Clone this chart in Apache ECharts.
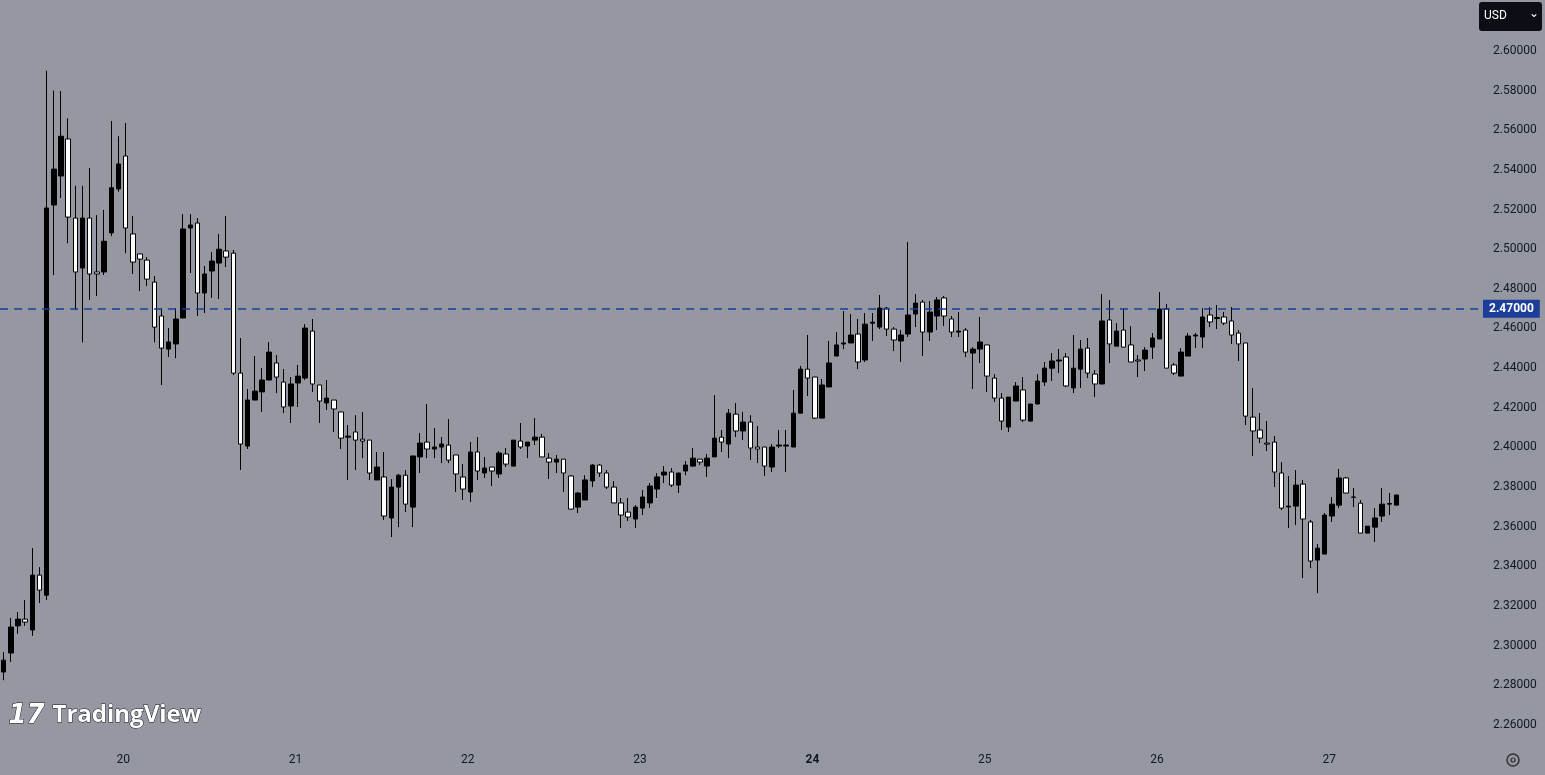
<!DOCTYPE html>
<html><head><meta charset="utf-8">
<script src="https://cdn.jsdelivr.net/npm/echarts@6/dist/echarts.min.js"></script>
<style>html,body{margin:0;padding:0;background:#9598a1;}#c{width:1545px;height:775px;}</style>
</head><body><div id="c"></div>
<script>
const openV=[2.2867,2.2963,2.310,2.3134,2.3079,2.3356,2.3255,2.5223,2.5369,2.5556,2.5157,2.4905,2.5157,2.4885,2.4885,2.5082,2.5304,2.547,2.5077,2.4976,2.4945,2.4834,2.4663,2.4496,2.4522,2.4653,2.5107,2.5132,2.4779,2.489,2.493,2.4991,2.498,2.4375,2.4007,2.4239,2.428,2.434,2.4426,2.433,2.4209,2.4325,2.435,2.4587,2.4315,2.4224,2.4239,2.4179,2.4052,2.4078,2.4042,2.4037,2.3836,2.3851,2.3644,2.380,2.386,2.3699,2.3952,2.4027,2.3992,2.4002,2.4012,2.3962,2.3851,2.3775,2.3977,2.3871,2.3901,2.3866,2.3967,2.3906,2.4032,2.4007,2.4037,2.4052,2.3946,2.3926,2.3941,2.3856,2.3699,2.3735,2.3831,2.3911,2.3871,2.380,2.372,2.3674,2.3639,2.3694,2.372,2.379,2.3861,2.3876,2.381,2.3881,2.3906,2.3941,2.3906,2.3952,2.4052,2.4017,2.4168,2.4083,2.4128,2.4002,2.4002,2.3901,2.4007,2.4007,2.4002,2.4173,2.4395,2.4355,2.4148,2.4305,2.4461,2.4522,2.4527,2.4572,2.4441,2.4627,2.4607,2.4703,2.4597,2.4537,2.4572,2.4673,2.4733,2.4582,2.4663,2.4754,2.4648,2.4582,2.4592,2.4476,2.4496,2.4517,2.435,2.4249,2.4103,2.4234,2.429,2.4133,2.4219,2.433,2.44,2.4436,2.4456,2.43,2.4395,2.4501,2.437,2.432,2.4643,2.4511,2.4592,2.4517,2.4441,2.4446,2.4506,2.4547,2.4698,2.4416,2.436,2.4461,2.4562,2.4557,2.4668,2.4650,2.4658,2.4638,2.4577,2.4527,2.4153,2.4088,2.4022,2.4027,2.3871,2.3700,2.3704,2.3815,2.3624,2.3432,2.3462,2.3654,2.3709,2.3846,2.3750,2.3719,2.3568,2.3598,2.3654,2.3714,2.3709];
const closeV=[2.2927,2.3094,2.3134,2.3119,2.3356,2.328,2.5208,2.5404,2.557,2.5162,2.4885,2.5157,2.4875,2.4875,2.504,2.531,2.543,2.5107,2.4935,2.495,2.4849,2.4607,2.4501,2.4532,2.4648,2.5102,2.5122,2.4779,2.4875,2.494,2.500,2.496,2.4375,2.4017,2.4239,2.4284,2.434,2.4481,2.4355,2.4204,2.432,2.436,2.4602,2.432,2.4234,2.4249,2.4194,2.4047,2.4057,2.4037,2.4032,2.3871,2.3901,2.3654,2.3800,2.386,2.3714,2.3957,2.4022,2.3992,2.4002,2.4017,2.3936,2.3866,2.379,2.3977,2.3881,2.3896,2.3881,2.3972,2.3916,2.4037,2.4002,2.4027,2.4052,2.3952,2.3926,2.3941,2.3871,2.3689,2.377,2.3836,2.3911,2.3871,2.380,2.372,2.3659,2.3649,2.3699,2.3750,2.3805,2.3851,2.3876,2.381,2.3871,2.3911,2.3946,2.3926,2.3946,2.4047,2.4027,2.4173,2.4083,2.4128,2.3997,2.3992,2.3906,2.4002,2.4012,2.4012,2.4173,2.4395,2.435,2.4148,2.4315,2.4426,2.4517,2.4527,2.4567,2.4431,2.4622,2.4632,2.4703,2.4597,2.4542,2.4567,2.4668,2.4728,2.4582,2.4683,2.4744,2.4663,2.4582,2.4587,2.4481,2.4496,2.4532,2.436,2.4249,2.4133,2.4254,2.431,2.4138,2.4219,2.4335,2.44,2.4436,2.4441,2.431,2.44,2.4496,2.4375,2.432,2.4638,2.4522,2.4587,2.4506,2.4431,2.4436,2.4491,2.4552,2.4698,2.44,2.4375,2.4481,2.4562,2.4567,2.4658,2.4633,2.4655,2.4627,2.4567,2.4522,2.4158,2.4083,2.4047,2.4017,2.3876,2.3694,2.3704,2.3810,2.3639,2.3427,2.3492,2.3659,2.3714,2.3846,2.377,2.3748,2.3568,2.3603,2.3644,2.3714,2.3717,2.376];
const lowV=[2.2826,2.2918,2.306,2.310,2.305,2.3215,2.323,2.487,2.5258,2.503,2.4693,2.453,2.4744,2.4764,2.487,2.5066,2.529,2.498,2.4875,2.4789,2.4814,2.453,2.4315,2.4456,2.445,2.4653,2.488,2.4663,2.4678,2.4754,2.4749,2.491,2.4365,2.3886,2.3992,2.4239,2.4179,2.434,2.4274,2.4173,2.4123,2.4204,2.434,2.428,2.4123,2.4189,2.4078,2.3992,2.3836,2.3886,2.3946,2.3836,2.3836,2.3634,2.3548,2.3598,2.3674,2.3598,2.3871,2.3946,2.3946,2.3921,2.3921,2.3775,2.3735,2.3725,2.3836,2.3846,2.3805,2.3846,2.3901,2.3906,2.3992,2.3946,2.4012,2.3952,2.3841,2.3871,2.3775,2.3689,2.3669,2.3735,2.380,2.3851,2.379,2.372,2.3593,2.3629,2.3593,2.3659,2.3694,2.3745,2.382,2.380,2.377,2.386,2.3901,2.3911,2.3851,2.3952,2.3977,2.3946,2.4052,2.4037,2.3936,2.3921,2.3856,2.3876,2.3997,2.3876,2.4002,2.4173,2.4259,2.4143,2.4148,2.4305,2.4461,2.4496,2.4527,2.4395,2.4431,2.4537,2.4597,2.4562,2.4486,2.4431,2.4557,2.4607,2.4461,2.4537,2.4592,2.4612,2.4557,2.4557,2.4456,2.4295,2.4426,2.428,2.4229,2.4088,2.4078,2.4234,2.4128,2.4133,2.4219,2.431,2.4335,2.4375,2.4305,2.4274,2.43,2.435,2.4254,2.432,2.4426,2.4511,2.4506,2.4431,2.4355,2.4385,2.4446,2.4547,2.44,2.4365,2.436,2.4461,2.4501,2.4501,2.4607,2.4597,2.4617,2.4522,2.4436,2.4113,2.3957,2.4022,2.3982,2.380,2.3684,2.3593,2.3608,2.3341,2.3391,2.3265,2.3462,2.3624,2.3694,2.377,2.3699,2.3568,2.3568,2.3523,2.3624,2.3659,2.3709];
const highV=[2.2968,2.314,2.317,2.323,2.3492,2.3396,2.590,2.580,2.5798,2.566,2.532,2.532,2.541,2.5172,2.5198,2.5647,2.557,2.5637,2.5167,2.4976,2.496,2.4865,2.4703,2.4602,2.4703,2.5177,2.5177,2.5157,2.4915,2.4986,2.5077,2.5167,2.4996,2.4552,2.4295,2.4461,2.440,2.4532,2.4466,2.4395,2.4355,2.4416,2.4622,2.4648,2.4315,2.434,2.4239,2.418,2.4113,2.4163,2.4179,2.4037,2.3977,2.3977,2.384,2.3866,2.3886,2.3957,2.4073,2.4219,2.4098,2.4052,2.4143,2.3962,2.3916,2.4027,2.4052,2.3952,2.3901,2.3982,2.3997,2.4037,2.4123,2.4027,2.4148,2.4068,2.3972,2.3962,2.3941,2.386,2.3775,2.386,2.3916,2.3916,2.3886,2.383,2.3745,2.3745,2.3709,2.3785,2.382,2.3871,2.3906,2.3896,2.3871,2.3931,2.3997,2.3941,2.3967,2.4264,2.4088,2.4194,2.4224,2.4179,2.4163,2.4108,2.4002,2.4017,2.4088,2.4088,2.4290,2.4411,2.4567,2.4355,2.4345,2.4537,2.4582,2.4688,2.4673,2.4648,2.4678,2.4678,2.4769,2.4708,2.4607,2.4592,2.5036,2.4774,2.4744,2.4738,2.4759,2.4764,2.4663,2.4683,2.4602,2.4506,2.4658,2.4517,2.437,2.4274,2.4254,2.433,2.4355,2.4219,2.437,2.4431,2.4476,2.4496,2.4476,2.4567,2.4542,2.4552,2.439,2.4774,2.4744,2.4627,2.4698,2.4612,2.4466,2.4506,2.4577,2.4784,2.4723,2.4426,2.4501,2.4577,2.4577,2.4703,2.4708,2.4718,2.4683,2.4708,2.4592,2.4527,2.43,2.4173,2.4133,2.4058,2.3926,2.3856,2.3886,2.3836,2.3634,2.3513,2.3669,2.3750,2.3891,2.3851,2.3795,2.3735,2.3603,2.3694,2.3795,2.377,2.376];
const dayLabels=['20','21','22','23','24','25','26','27'];
const yTicks=[2.26,2.28,2.30,2.32,2.34,2.36,2.38,2.40,2.42,2.44,2.46,2.48,2.50,2.52,2.54,2.56,2.58,2.60];
const refLevel=2.47;

const firstDayIdx=17, totalSlots=206;
const cats=[];const dayAt={};
for(let i=0;i<totalSlots;i++){cats.push('h'+i);const d=i-firstDayIdx;if(d>=0&&d%24===0&&dayLabels[d/24]!==undefined)dayAt[i]=dayLabels[d/24];}
const kdata=openV.map((o,i)=>[o,closeV[i],lowV[i],highV[i]]);

const chart=echarts.init(document.getElementById('c'));
chart.setOption({
  backgroundColor:'#9598a1',animation:false,
  grid:{left:-2,right:66,top:0,bottom:30},
  xAxis:{type:'category',data:cats,boundaryGap:true,
    axisLine:{show:false},axisTick:{show:false},splitLine:{show:false},
    axisLabel:{interval:(i)=>dayAt[i]!==undefined,formatter:(v,i)=>{const t=dayAt[i];if(t===undefined)return '';return t==='24'?'{b|24}':t;},
      color:'#131722',fontSize:12,fontFamily:'Roboto, sans-serif',margin:9,padding:[0,5,0,0],rich:{b:{fontWeight:'bold',fontSize:12,color:'#131722'}}}},
  yAxis:{type:'value',position:'right',min:2.2499,max:2.6257,scale:true,
    axisLine:{show:false},axisTick:{show:false},splitLine:{show:false},
    axisLabel:{customValues:yTicks,formatter:v=>v.toFixed(5),color:'#131722',fontSize:12,fontFamily:'Roboto, sans-serif',margin:14,padding:[4,0,0,0]}},
  series:[{type:'candlestick',data:kdata,barWidth:5,
    itemStyle:{color:'#000000',color0:'#ffffff',borderColor:'#000000',borderColor0:'#000000',borderWidth:1},
    markLine:{symbol:'none',silent:true,data:[{yAxis:refLevel}],
      lineStyle:{color:'#1a3aa0',type:[8,6],width:1.5},
      label:{position:'end',formatter:()=>refLevel.toFixed(5),color:'#fff',backgroundColor:'#1c3d99',padding:[3,6,3,6],fontSize:12,fontWeight:'bold',fontFamily:'Roboto, sans-serif',distance:4}}}],
  graphic:[
    {type:'rect',left:1479,top:2,shape:{width:63,height:29,r:3},style:{fill:'#0c0e15'}},
    {type:'text',left:1484,top:10,style:{text:'USD',fill:'#fff',font:'12px Roboto, sans-serif'}},
    {type:'text',left:1529,top:8,style:{text:'⌄',fill:'#fff',font:'12px DejaVu Sans'}},
    {type:'text',left:8,top:703,style:{text:'17',fill:'#fff',stroke:'#131722',lineWidth:1,font:'italic 900 26px "DejaVu Sans"'}},
    {type:'text',left:52,top:703,style:{text:'TradingView',fill:'#fff',stroke:'#131722',lineWidth:1,font:'bold 24px "Open Sans", sans-serif'}},
    {type:'circle',shape:{cx:1513,cy:760,r:6},style:{fill:'none',stroke:'#333',lineWidth:1.5}},
    {type:'circle',shape:{cx:1513,cy:760,r:2},style:{fill:'none',stroke:'#333',lineWidth:1.2}}
  ]
});
</script></body></html>
